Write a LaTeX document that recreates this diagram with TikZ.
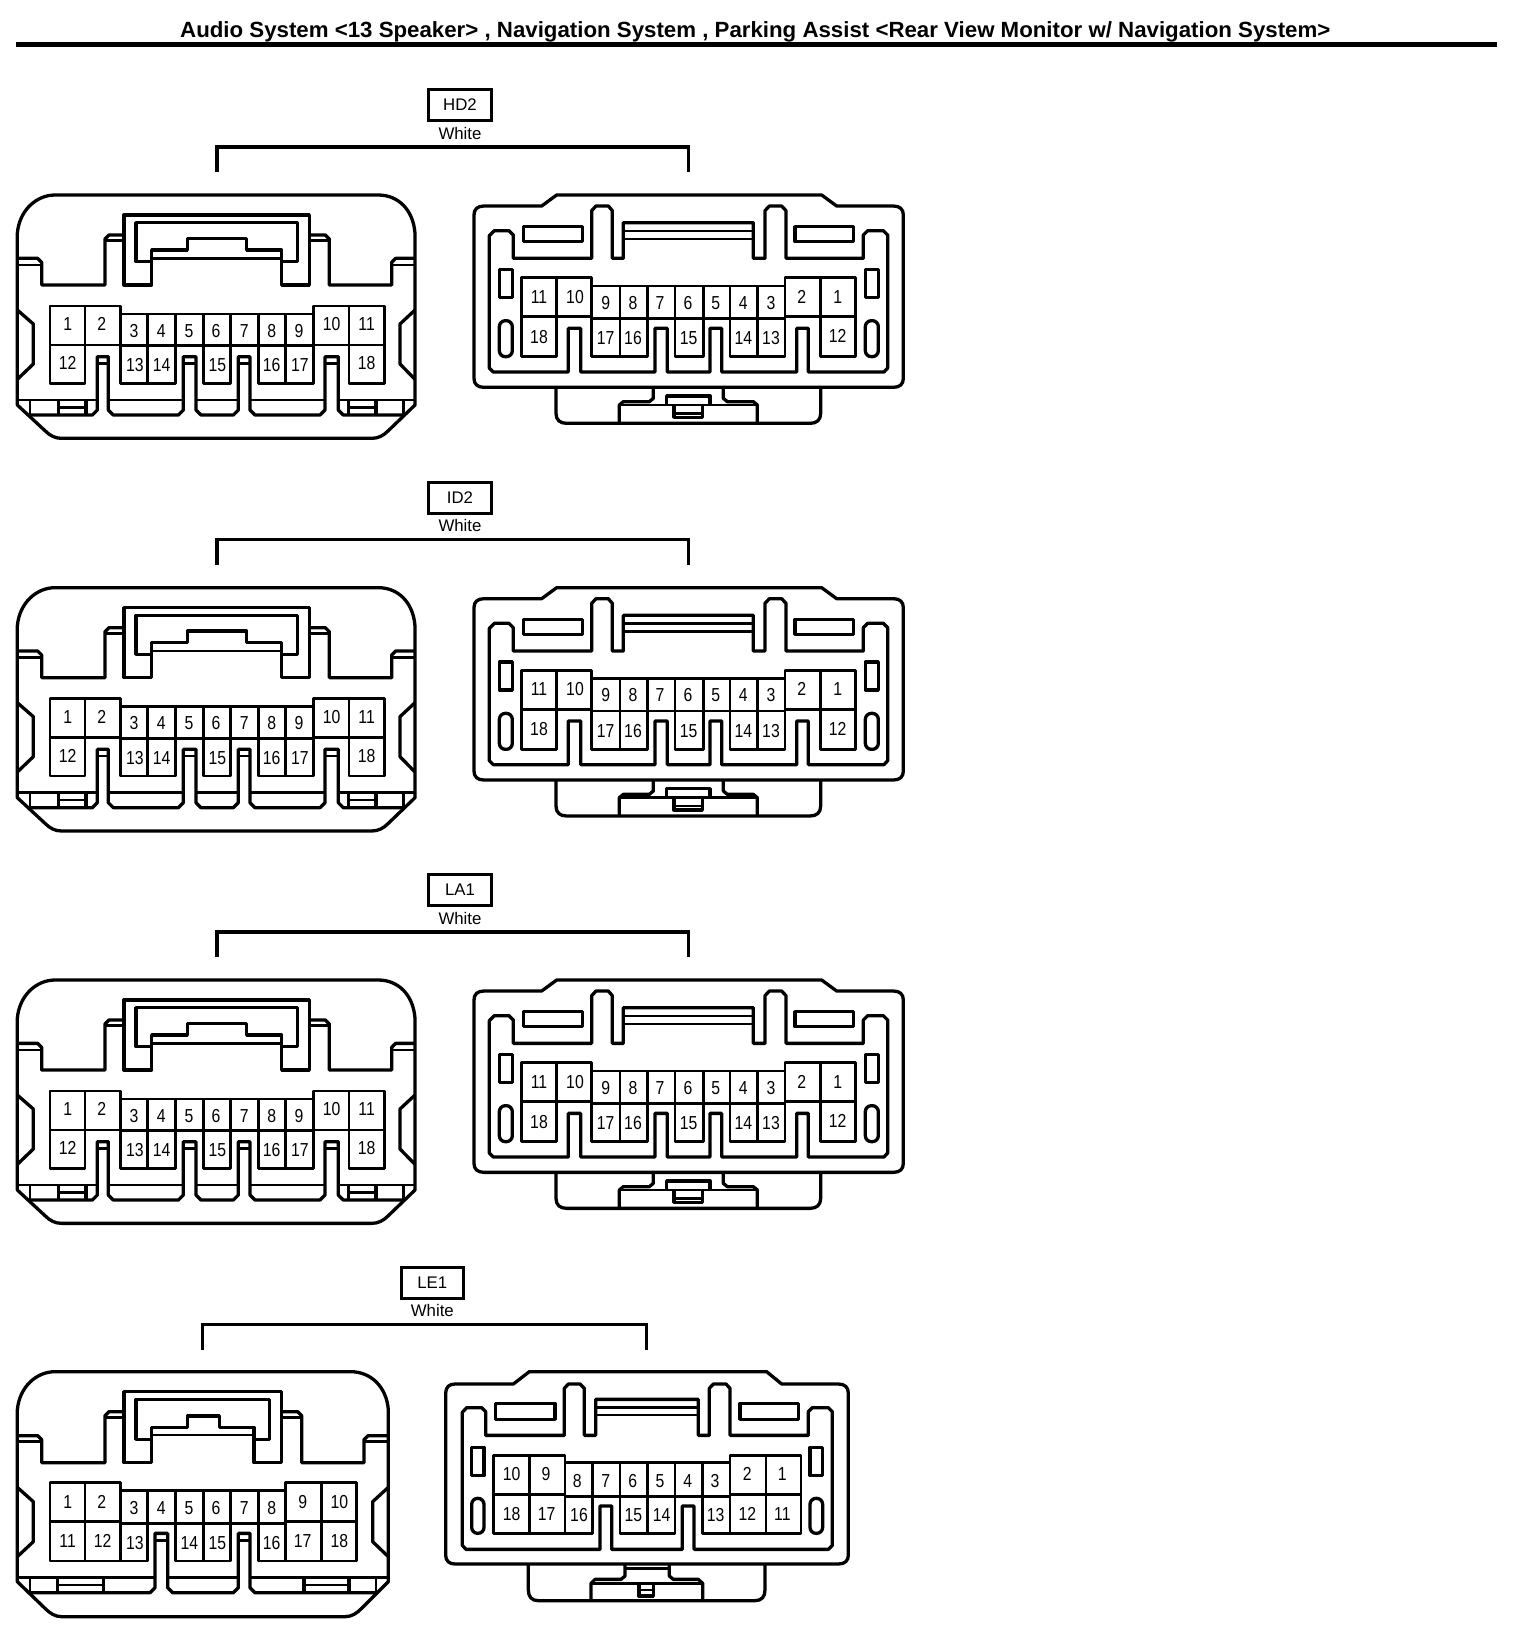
\documentclass[tikz,border=0pt]{standalone}
\usepackage{fontspec}
\setmainfont{Liberation Sans}
\newfontfamily\pinfont[FakeStretch=0.84]{Liberation Sans}
\newfontfamily\titlefont[FakeStretch=1.012]{Liberation Sans}
\tikzset{
  conline/.style={line width=1.65pt,line join=round},
  cellline/.style={line width=1.4pt,line join=round},
  thinline/.style={line width=1.2pt,line join=round},
  pinlabel/.style={inner sep=0pt,font=\pinfont\fontsize{9.4}{10}\selectfont},
  tagbox/.style={draw,line width=1.5pt,minimum width=31.2pt,minimum height=15.5pt,inner sep=0pt,font=\fontsize{8.4}{10}\selectfont},
  taglabel/.style={inner sep=0pt,font=\fontsize{8.4}{10}\selectfont},
  bracket/.style={line width=1.7pt,line join=miter}
}
% cells: x1/y1/x2/y2
\newcommand{\cells}[1]{\foreach \xa/\ya/\xb/\yb in {#1}{\draw[cellline] (\xa,\ya) rectangle (\xb,\yb);}}
\newcommand{\pins}[1]{\foreach \lx/\ly/\t in {#1}{\node[pinlabel] (p\t) at (\lx,\ly) {\t};}}
% Left view, 18 pin (rows HD2, ID2, LA1)
\newcommand{\ConnA}{
 \draw[conline] (52,190) .. controls (58,120) and (110,75) .. (165,75) -- (1135,75) .. controls (1195,75) and (1240,120) .. (1245,190) -- (1245,705) -- (1165,782) .. controls (1150,797) and (1135,805) .. (1115,805) -- (185,805) .. controls (165,805) and (150,797) .. (135,782) -- (52,705) -- cycle;
 \draw[conline] (52,265) -- (113,265) -- (125,277) -- (125,345) -- (315,345) -- (315,207) -- (327,195) -- (372,195);
 \draw[thinline] (52,285) -- (125,285) (315,212) -- (372,212);
 \draw[conline] (928,195) -- (976,195) -- (988,207) -- (988,345) -- (1175,345) -- (1175,277) -- (1187,265) -- (1245,265);
 \draw[thinline] (1175,285) -- (1245,285) (928,212) -- (988,212);
 \draw[conline] (372,345) -- (372,135) -- (928,135) -- (928,345) -- (845,345) -- (845,240) -- (740,240) -- (740,205) -- (562,205) -- (562,240) -- (455,240) -- (455,345) -- cycle;
 \draw[conline] (455,275) -- (408,275) -- (408,158) -- (892,158) -- (892,275) -- (845,275);
 \draw[thinline] (455,265) -- (845,265);
 \draw[conline] (52,420) -- (100,462) -- (100,582) -- (52,628);
 \draw[conline] (1245,420) -- (1200,462) -- (1200,582) -- (1245,628);
 \draw[thinline] (52,690) -- (292,690) (325,690) -- (550,690) (588,690) -- (715,690) (750,690) -- (975,690) (1015,690) -- (1245,690);
 \draw[conline] (85,735) -- (277,735) -- (292,720) -- (292,560) -- (325,560) -- (325,720) -- (340,735) -- (535,735) -- (550,720) -- (550,560) -- (588,560) -- (588,720) -- (603,735) -- (700,735) -- (715,720) -- (715,560) -- (750,560) -- (750,720) -- (765,735) -- (960,735) -- (975,720) -- (975,560) -- (1015,560) -- (1015,720) -- (1030,735) -- (1213,735);
 \draw[thinline] (292,580) -- (325,580) (550,580) -- (588,580) (715,580) -- (750,580) (975,580) -- (1015,580);
 \draw[thinline] (90,690) -- (90,735) (1210,690) -- (1210,735);
 \draw[conline] (175,690) -- (175,735) (258,690) -- (258,735) (1045,690) -- (1045,735) (1128,690) -- (1128,735);
 \draw[thinline] (175,712) -- (258,712) (1045,712) -- (1128,712);
 \cells{150/408/255/525,255/408/362/525,362/432/442/527,442/432/527/527,527/432/610/527,610/432/692/527,692/432/775/527,775/432/857/527,857/432/940/527,940/408/1047/525,1047/408/1153/525,150/525/255/640,362/527/442/640,442/527/527/640,610/527/692/640,775/527/857/640,857/527/940/640,1047/525/1153/640}
 \pins{203/463/1,305/463/2,402/482/3,484/482/4,567/482/5,648/482/6,733/482/7,815/482/8,897/482/9,995/463/10,1100/463/11,203/580/12,405/585/13,485/585/14,652/585/15,815/585/16,900/585/17,1100/580/18}
}
% Right view, 18 pin (rows HD2, ID2, LA1)
\newcommand{\ConnB}{
 \draw[conline] (245,108) -- (290,75) -- (1085,75) -- (1130,108) -- (1300,108) .. controls (1320,108) and (1330,118) .. (1330,135) -- (1330,625) .. controls (1330,642) and (1320,652) .. (1300,652) -- (72,652) .. controls (52,652) and (42,642) .. (42,625) -- (42,135) .. controls (42,118) and (52,108) .. (72,108) -- cycle;
 \draw[conline] (288,652) -- (288,730) .. controls (288,750) and (300,760) .. (320,760) -- (1050,760) .. controls (1070,760) and (1082,750) .. (1082,730) -- (1082,652);
 \draw[conline] (478,760) -- (478,705) -- (490,695) -- (568,695) -- (580,685) -- (580,652);
 \draw[conline] (892,760) -- (892,705) -- (880,695) -- (802,695) -- (790,685) -- (790,652);
 \draw[thinline] (478,705) -- (892,705);
 \draw[conline] (620,705) -- (620,678) -- (750,678) -- (750,705);
 \draw[conline] (642,705) -- (642,742) -- (727,742) -- (727,705);
 \draw[thinline] (642,730) -- (727,730);
 \draw[conline] (88,197) -- (103,182) -- (147,182) -- (160,195) -- (160,265) -- (395,265) -- (395,122) -- (408,108) -- (445,108) -- (457,122) -- (457,265) -- (490,265) -- (490,158) -- (880,158) -- (880,265) -- (915,265) -- (915,122) -- (928,108) -- (965,108) -- (978,122) -- (978,265) -- (1210,265) -- (1210,195) -- (1223,182) -- (1270,182) -- (1283,195) -- (1283,594) -- (1272,606) -- (1045,606) -- (1045,475) -- (1010,475) -- (1010,606) -- (785,606) -- (785,475) -- (750,475) -- (750,606) -- (622,606) -- (622,475) -- (585,475) -- (585,606) -- (362,606) -- (362,475) -- (325,475) -- (325,606) -- (100,606) -- (88,594) -- cycle;
 \draw[thinline] (490,183) -- (880,183) (490,207) -- (880,207);
 \draw[conline] (190,170) rectangle (367,215) (1005,170) rectangle (1180,215) (118,298) rectangle (157,382) (1216,298) rectangle (1255,382);
 \draw[conline,rounded corners=3pt] (118,452) rectangle (157,560) (1216,452) rectangle (1255,560);
 \cells{185/323/290/440,290/323/395/440,395/348/480/445,480/348/563/445,563/348/645/445,645/348/730/445,730/348/810/445,810/348/893/445,893/348/975/445,975/323/1082/440,1082/323/1187/440,185/440/290/560,395/445/480/560,480/445/563/560,645/445/730/560,810/445/893/560,893/445/975/560,1082/440/1187/560}
 \pins{237/380/11,345/380/10,437/398/9,519/398/8,600/398/7,684/398/6,767/398/5,850/398/4,933/398/3,1025/380/2,1133/380/1,237/500/18,437/505/17,519/505/16,686/505/15,850/505/14,933/505/13,1133/498/12}
}
% Left view, LE1
\newcommand{\ConnC}{
 \draw[conline] (52,150) .. controls (58,80) and (110,35) .. (165,35) -- (1052,35) .. controls (1112,35) and (1160,80) .. (1165,150) -- (1165,665) -- (1085,745) .. controls (1070,760) and (1055,770) .. (1035,770) -- (185,770) .. controls (165,770) and (150,760) .. (135,745) -- (52,665) -- cycle;
 \draw[conline] (52,227) -- (113,227) -- (125,239) -- (125,308) -- (315,308) -- (315,167) -- (327,155) -- (372,155);
 \draw[thinline] (52,245) -- (125,245) (315,172) -- (372,172);
 \draw[conline] (845,155) -- (893,155) -- (905,167) -- (905,308) -- (1092,308) -- (1092,239) -- (1104,227) -- (1165,227);
 \draw[thinline] (1092,245) -- (1165,245) (845,172) -- (905,172);
 \draw[conline] (372,308) -- (372,95) -- (845,95) -- (845,308) -- (762,308) -- (762,202) -- (658,202) -- (658,168) -- (562,168) -- (562,202) -- (455,202) -- (455,308) -- cycle;
 \draw[conline] (455,238) -- (408,238) -- (408,118) -- (808,118) -- (808,238) -- (762,238);
 \draw[thinline] (455,225) -- (762,225);
 \draw[conline] (52,382) -- (100,425) -- (100,545) -- (52,590);
 \draw[conline] (1165,382) -- (1118,425) -- (1118,545) -- (1165,590);
 \draw[thinline] (52,652) -- (465,652) (503,652) -- (715,652) (750,652) -- (1165,652);
 \draw[conline] (87,698) -- (450,698) -- (465,683) -- (465,520) -- (503,520) -- (503,683) -- (518,698) -- (700,698) -- (715,683) -- (715,520) -- (750,520) -- (750,683) -- (765,698) -- (1132,698);
 \draw[thinline] (465,542) -- (503,542) (715,542) -- (750,542);
 \draw[thinline] (90,652) -- (90,698) (1128,652) -- (1128,698);
 \draw[conline] (172,652) -- (172,698) (310,652) -- (310,698) (912,652) -- (912,698) (1047,652) -- (1047,698);
 \draw[thinline] (172,675) -- (310,675) (912,675) -- (1047,675);
 \cells{150/368/255/485,255/368/362/485,362/392/442/490,442/392/527/490,527/392/610/490,610/392/692/490,692/392/775/490,775/392/857/490,857/368/965/485,965/368/1070/485,150/485/255/603,255/485/362/603,362/490/442/603,527/490/610/603,610/490/692/603,775/490/857/603,857/485/965/603,965/485/1070/603}
 \pins{203/425/1,305/425/2,402/443/3,484/443/4,567/443/5,648/443/6,733/443/7,815/443/8,908/425/9,1018/425/10,203/543/11,308/543/12,405/550/13,568/550/14,652/550/15,815/550/16,908/543/17,1018/543/18}
}
% Right view, LE1
\newcommand{\ConnD}{
 \draw[conline] (250,72) -- (298,35) -- (1010,35) -- (1055,72) -- (1225,72) .. controls (1245,72) and (1255,82) .. (1255,100) -- (1255,585) .. controls (1255,602) and (1245,612) .. (1225,612) -- (75,612) .. controls (57,612) and (47,602) .. (47,585) -- (47,100) .. controls (47,82) and (57,72) .. (75,72) -- cycle;
 \draw[conline] (295,612) -- (295,690) .. controls (295,710) and (305,722) .. (325,722) -- (975,722) .. controls (995,722) and (1005,710) .. (1005,690) -- (1005,612);
 \draw[conline] (483,722) -- (483,670) -- (495,658) -- (573,658) -- (585,648) -- (585,612);
 \draw[conline] (818,722) -- (818,670) -- (805,658) -- (730,658) -- (718,648) -- (718,612);
 \draw[thinline] (483,670) -- (818,670);
 \draw[thinline] (585,625) -- (718,625);
 \draw[conline] (627,670) rectangle (670,708);
 \draw[thinline] (627,690) -- (670,690);
 \draw[conline] (97,157) -- (110,143) -- (155,143) -- (167,155) -- (167,226) -- (403,226) -- (403,85) -- (415,72) -- (450,72) -- (463,85) -- (463,226) -- (497,226) -- (497,118) -- (805,118) -- (805,226) -- (838,226) -- (838,85) -- (850,72) -- (888,72) -- (900,85) -- (900,226) -- (1135,226) -- (1135,155) -- (1147,143) -- (1195,143) -- (1207,155) -- (1207,556) -- (1195,568) -- (792,568) -- (792,438) -- (757,438) -- (757,568) -- (545,568) -- (545,438) -- (510,438) -- (510,568) -- (108,568) -- (97,556) -- cycle;
 \draw[thinline] (497,142) -- (805,142) (497,165) -- (805,165);
 \draw[conline] (197,130) rectangle (375,178) (930,130) rectangle (1105,178) (125,262) rectangle (162,347) (1140,262) rectangle (1178,347);
 \draw[conline,rounded corners=3pt] (125,415) rectangle (162,520) (1140,415) rectangle (1178,520);
 \cells{190/287/298/403,298/287/405/403,405/308/487/410,487/308/570/410,570/308/652/410,652/308/735/410,735/308/817/410,817/308/900/410,900/287/1008/403,1008/287/1113/403,190/403/298/520,298/403/405/520,405/410/487/520,570/410/652/520,652/410/735/520,817/410/900/520,900/403/1008/520,1008/403/1113/520}
 \pins{245/343/10,348/343/9,442/362/8,527/362/7,608/362/6,690/362/5,773/362/4,855/362/3,952/343/2,1057/343/1,245/462/18,350/462/17,447/466/16,610/466/15,695/466/14,857/466/13,952/462/12,1057/462/11}
}
% tag, colour note and bracket: #1 code #2 centre x #3 y shift #4 bracket left #5 bracket right
\newcommand{\Tag}[5]{
 \node[tagbox] (tag#1) at (#2,315+#3) {#1};
 \node[taglabel] (col#1) at (#2,399+#3) {White};
 \coordinate (bl#1) at (#4,516+#3);
 \coordinate (br#1) at (#5,516+#3);
 \draw[bracket] (bl#1) -- (#4,441+#3) -- (#5,441+#3) -- (br#1);
}
\begin{document}
\begin{tikzpicture}[x=0.16667pt,y=-0.16667pt]
 \useasboundingbox (0,0) rectangle (4560,4914);
 \fill[white] (0,0) rectangle (4560,4914);
 \node[anchor=base,inner sep=0pt,font=\titlefont\bfseries\fontsize{11}{12}\selectfont] (title) at (2266,113) {Audio System <13 Speaker> , Navigation System , Parking Assist <Rear View Monitor w/ Navigation System>};
 \draw[line width=2.5pt] (48,132) -- (4492,132);
 \Tag{HD2}{1380}{0}{651}{2066}
 \Tag{ID2}{1380}{1178}{651}{2066}
 \Tag{LA1}{1380}{2355}{651}{2066}
 \Tag{LE1}{1297}{3533}{607}{1940}
 \begin{scope}[shift={(0,510)},name prefix=hdl-]\ConnA\end{scope}
 \begin{scope}[shift={(1380,510)},name prefix=hdr-]\ConnB\end{scope}
 \begin{scope}[shift={(0,1688)},name prefix=idl-]\ConnA\end{scope}
 \begin{scope}[shift={(1380,1688)},name prefix=idr-]\ConnB\end{scope}
 \begin{scope}[shift={(0,2865)},name prefix=lal-]\ConnA\end{scope}
 \begin{scope}[shift={(1380,2865)},name prefix=lar-]\ConnB\end{scope}
 \begin{scope}[shift={(0,4080)},name prefix=lel-]\ConnC\end{scope}
 \begin{scope}[shift={(1290,4080)},name prefix=ler-]\ConnD\end{scope}
\end{tikzpicture}
\end{document}
